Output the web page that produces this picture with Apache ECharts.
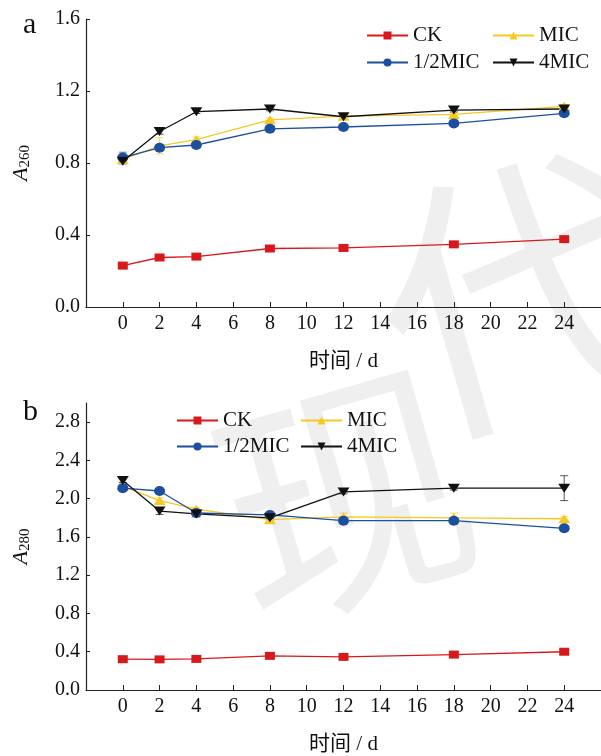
<!DOCTYPE html>
<html>
<head>
<meta charset="utf-8">
<script src="https://cdn.jsdelivr.net/npm/echarts@6/dist/echarts.min.js"></script>
<style>
  html, body { margin: 0; padding: 0; background: #fff; }
  #main { width: 601px; height: 756px; }
</style>
</head>
<body>
<div id="main"></div>
<script>
(function () {
    // 时间 / d
    const days = [0, 2, 4, 8, 12, 18, 24]
    const xTicks = [0, 2, 4, 6, 8, 10, 12, 14, 16, 18, 20, 22, 24]
    const yTicksA = [0, 0.4, 0.8, 1.2, 1.6]
    const yTicksB = [0, 0.4, 0.8, 1.2, 1.6, 2.0, 2.4, 2.8]
    const names = ['CK', 'MIC', '1/2MIC', '4MIC']

    // A260
    const ckA = [0.23, 0.275, 0.28, 0.325, 0.328, 0.348, 0.377]
    const micA = [0.82, 0.895, 0.93, 1.04, 1.06, 1.07, 1.115]
    const halfA = [0.83, 0.885, 0.90, 0.99, 1.0, 1.02, 1.076]
    const fourA = [0.81, 0.975, 1.085, 1.10, 1.057, 1.094, 1.10]
    // A280
    const ckB = [0.322, 0.32, 0.325, 0.357, 0.346, 0.37, 0.40]
    const micB = [2.13, 1.98, 1.89, 1.78, 1.81, 1.80, 1.79]
    const halfB = [2.11, 2.08, 1.85, 1.83, 1.77, 1.77, 1.69]
    const fourB = [2.19, 1.87, 1.84, 1.80, 2.07, 2.11, 2.11]

    // 误差 (standard deviation)
    const ckAErr = [0.01, 0.01, 0.01, 0.01, 0.01, 0.01, 0.01]
    const micAErr = [0.02, 0.045, 0.015, 0.01, 0.01, 0.01, 0.01]
    const halfAErr = [0.03, 0.015, 0.01, 0.01, 0.01, 0.01, 0.01]
    const fourAErr = [0.015, 0.015, 0.01, 0.01, 0.01, 0.01, 0.01]
    const ckBErr = [0.01, 0.01, 0.01, 0.01, 0.01, 0.01, 0.01]
    const micBErr = [0.03, 0.03, 0.02, 0.02, 0.04, 0.05, 0.02]
    const halfBErr = [0.02, 0.02, 0.02, 0.02, 0.02, 0.03, 0.03]
    const fourBErr = [0.02, 0.035, 0.03, 0.02, 0.02, 0.02, 0.13]

    const colors = { 'CK': '#d7191c', 'MIC': '#f5c922', '1/2MIC': '#1d4f9f', '4MIC': '#111111' }
    const symbols = { 'CK': 'rect', 'MIC': 'triangle', '1/2MIC': 'circle', '4MIC': 'triangle' }
    const serif = '"Liberation Serif", "Times New Roman", "Noto Sans CJK SC", serif'

    let chart = echarts.init(document.getElementById('main'), null, { renderer: 'canvas' })

    function pairs(vals) {
        return days.map((d, i) => [d, vals[i]])
    }

    function lineSeries(name, vals, idx) {
        return {
            name: name,
            type: 'line',
            xAxisIndex: idx,
            yAxisIndex: idx,
            data: pairs(vals),
            symbol: symbols[name],
            symbolSize: name === 'CK' ? [10, 8] : (name === '1/2MIC' ? [11, 10] : [12, 9]),
            symbolRotate: name === '4MIC' ? 180 : 0,
            showSymbol: true,
            lineStyle: { width: 1.3, color: colors[name] },
            itemStyle: { color: colors[name] },
            z: 3
        }
    }

    function errSeries(name, vals, errs, idx) {
        return {
            type: 'custom',
            xAxisIndex: idx,
            yAxisIndex: idx,
            silent: true,
            z: 2,
            data: days.map((d, i) => [d, vals[i] - errs[i], vals[i] + errs[i]]),
            renderItem(params, api) {
                let lo = api.coord([api.value(0), api.value(1)])
                let hi = api.coord([api.value(0), api.value(2)])
                let w = 4
                let st = { stroke: colors[name], lineWidth: 1, opacity: 0.7 }
                return {
                    type: 'group',
                    children: [
                        { type: 'line', shape: { x1: lo[0], y1: lo[1], x2: hi[0], y2: hi[1] }, style: st },
                        { type: 'line', shape: { x1: lo[0] - w, y1: lo[1], x2: lo[0] + w, y2: lo[1] }, style: st },
                        { type: 'line', shape: { x1: hi[0] - w, y1: hi[1], x2: hi[0] + w, y2: hi[1] }, style: st }
                    ]
                }
            }
        }
    }

    function xAxis(idx) {
        return {
            type: 'value',
            gridIndex: idx,
            min: -2,
            max: 26,
            interval: 2,
            name: '时间 / d',
            nameLocation: 'middle',
            nameGap: 44,
            nameTextStyle: { fontSize: 21, color: '#111', fontFamily: serif },
            axisLine: { onZero: false, lineStyle: { color: '#222', width: 1.2 } },
            axisTick: { inside: true, length: 5, customValues: xTicks, lineStyle: { color: '#222' } },
            axisLabel: { customValues: xTicks, fontSize: 20, color: '#111', fontFamily: serif, margin: 7 },
            splitLine: { show: false }
        }
    }

    function yAxis(idx, max, ticks, sub) {
        return {
            type: 'value',
            gridIndex: idx,
            min: 0,
            max: max,
            interval: 0.4,
            name: '{i|A}{s|' + sub + '}',
            nameLocation: 'middle',
            nameGap: 53,
            nameTextStyle: {
                rich: {
                    i: { fontSize: 22, fontStyle: 'italic', fontFamily: serif, color: '#111', lineHeight: 24 },
                    s: { fontSize: 15, fontFamily: serif, color: '#111', verticalAlign: 'bottom', lineHeight: 24, padding: [10, 0, 0, 0] }
                }
            },
            axisLine: { show: true, onZero: false, lineStyle: { color: '#222', width: 1.2 } },
            axisTick: { show: true, inside: true, length: 4, customValues: ticks, lineStyle: { color: '#222' } },
            axisLabel: {
                customValues: ticks,
                fontSize: 20,
                color: '#111',
                fontFamily: serif,
                margin: 6,
                formatter: v => v.toFixed(1)
            },
            splitLine: { show: false }
        }
    }

    function legendAt(name, left, top) {
        return {
            data: [name],
            left: left,
            top: top,
            padding: 0,
            itemWidth: 41,
            itemHeight: 10,
            itemGap: 0,
            textStyle: { fontSize: 21, color: '#111', fontFamily: serif },
            selectedMode: false
        }
    }

    let series = [
        errSeries('CK', ckA, ckAErr, 0),
        errSeries('MIC', micA, micAErr, 0),
        errSeries('1/2MIC', halfA, halfAErr, 0),
        errSeries('4MIC', fourA, fourAErr, 0),
        lineSeries('CK', ckA, 0),
        lineSeries('MIC', micA, 0),
        lineSeries('1/2MIC', halfA, 0),
        lineSeries('4MIC', fourA, 0),
        errSeries('CK', ckB, ckBErr, 1),
        errSeries('MIC', micB, micBErr, 1),
        errSeries('1/2MIC', halfB, halfBErr, 1),
        errSeries('4MIC', fourB, fourBErr, 1),
        lineSeries('CK', ckB, 1),
        lineSeries('MIC', micB, 1),
        lineSeries('1/2MIC', halfB, 1),
        lineSeries('4MIC', fourB, 1)
    ]

    let option = {
        backgroundColor: '#fff',
        animation: false,
        graphic: [
            // 水印
            { type: 'text', left: 190, top: 340, rotation: 0.28, z: -10, silent: true,
              style: { text: '现', fontSize: 250, fill: '#efefef', fontFamily: '"Noto Sans CJK SC"' } },
            { type: 'text', left: 345, top: 120, rotation: 0.28, z: -10, silent: true,
              style: { text: '代', fontSize: 280, fill: '#efefef', fontFamily: '"Noto Sans CJK SC"' } },
            { type: 'text', left: 23, top: 10, style: { text: 'a', fontSize: 30, fill: '#111', fontFamily: serif } },
            { type: 'text', left: 23, top: 397, style: { text: 'b', fontSize: 30, fill: '#111', fontFamily: serif } }
        ],
        legend: [
            legendAt('CK', 366, 25),
            legendAt('MIC', 492, 25),
            legendAt('1/2MIC', 366, 52),
            legendAt('4MIC', 492, 52),
            legendAt('CK', 176, 410),
            legendAt('MIC', 300, 410),
            legendAt('1/2MIC', 176, 436),
            legendAt('4MIC', 300, 436)
        ],
        grid: [
            { left: 84, right: 0, top: 19, height: 288 },
            { left: 84, right: 0, top: 403, height: 288 }
        ],
        xAxis: [xAxis(0), xAxis(1)],
        yAxis: [yAxis(0, 1.6, yTicksA, '260'), yAxis(1, 3.0, yTicksB, '280')],
        series: series
    }

    chart.setOption(option)
    window.addEventListener('resize', function () {
        chart.resize()
    })
})()
</script>
</body>
</html>
